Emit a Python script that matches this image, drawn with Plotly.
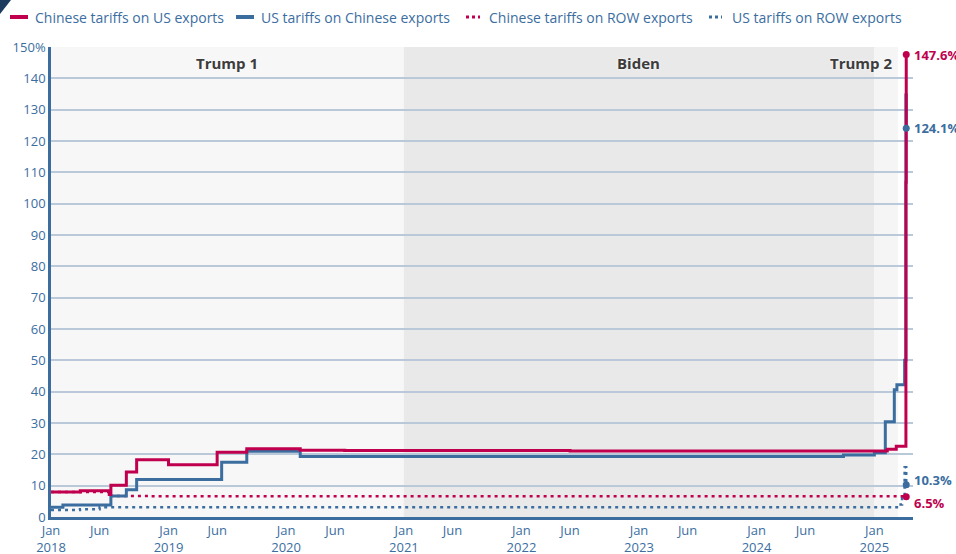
import plotly.graph_objects as go

# Aranceles medios (%), series escalonadas
fechas_cn_us = ["2018-01-01", "2018-04-02", "2018-07-01", "2018-07-06", "2018-08-23",
                "2018-09-24", "2019-01-01", "2019-06-01", "2019-09-01", "2020-02-14",
                "2020-07-01", "2022-06-01", "2025-02-10", "2025-03-10", "2025-04-09",
                "2025-04-10"]
cn_us = [8.0, 8.4, 7.2, 10.1, 14.4, 18.3, 16.7, 20.7, 21.8, 21.3,
         21.2, 21.1, 21.6, 22.6, 106.8, 147.6]

fechas_us_cn = ["2018-01-01", "2018-02-07", "2018-07-06", "2018-08-23", "2018-09-24",
                "2019-06-15", "2019-09-01", "2020-02-14", "2024-09-27", "2025-01-01",
                "2025-02-04", "2025-03-04", "2025-03-12", "2025-04-05", "2025-04-09",
                "2025-04-10"]
us_cn = [3.1, 3.8, 6.7, 8.7, 12.0, 17.5, 21.0, 19.3, 19.8, 20.5,
         30.4, 40.6, 42.2, 50.0, 134.7, 124.1]

fechas_cn_row = ["2018-01-01", "2018-07-01", "2018-11-01", "2025-04-10"]
cn_row = [8.0, 6.7, 6.6, 6.5]

fechas_us_row = ["2018-01-01", "2018-04-01", "2018-06-01", "2025-03-12", "2025-03-28",
                 "2025-04-05", "2025-04-10"]
us_row = [2.2, 2.5, 3.1, 4.0, 6.0, 15.9, 10.3]

periodos = [("Trump 1", "2018-01-01", "2021-01-01", "#f7f7f7"),
            ("Biden", "2021-01-01", "2025-01-01", "#e9e9e9"),
            ("Trump 2", "2025-01-01", "2025-03-15", "#f5f5f5")]
pos_etiquetas = ["2019-07-01", "2023-01-01", "2024-11-20"]

tick_fechas = ["2018-01-01", "2018-06-01", "2019-01-01", "2019-06-01", "2020-01-01",
               "2020-06-01", "2021-01-01", "2021-06-01", "2022-01-01", "2022-06-01",
               "2023-01-01", "2023-06-01", "2024-01-01", "2024-06-01", "2025-01-01"]
tick_textos = ["Jan<br>2018", "Jun", "Jan<br>2019", "Jun", "Jan<br>2020", "Jun",
               "Jan<br>2021", "Jun", "Jan<br>2022", "Jun", "Jan<br>2023", "Jun",
               "Jan<br>2024", "Jun", "Jan<br>2025"]
y_ticks = list(range(0, 151, 10))
y_textos = [str(v) for v in y_ticks[:-1]] + ["150%"]

ROJO = "#c0004e"
AZUL = "#3b6e9f"
FUENTE = "Open Sans"

# geometria del area de trazado (px) para la leyenda manual
L, R, T, B = 51, 43, 47, 37
W, H = 956, 554
PW, PH = W - L - R, H - T - B


def px_x(p):
    return (p - L) / PW


def px_y(p):
    return (H - B - p) / PH


fig = go.Figure()

series = [
    ("Chinese tariffs on US exports", fechas_cn_us, cn_us, ROJO, "solid", 3),
    ("US tariffs on Chinese exports", fechas_us_cn, us_cn, AZUL, "solid", 3),
    ("Chinese tariffs on ROW exports", fechas_cn_row, cn_row, ROJO, "3px,4px", 2.5),
    ("US tariffs on ROW exports", fechas_us_row, us_row, AZUL, "3px,4px", 2.5),
]
# orden de dibujo: punteadas abajo, luego azul, luego roja encima
for i in [3, 2, 1, 0]:
    nombre, xs, ys, color, dash, ancho = series[i]
    fig.add_trace(go.Scatter(x=xs, y=ys, name=nombre, mode="lines", showlegend=False,
                             line=dict(color=color, width=ancho, dash=dash, shape="hv")))

# Puntos finales con etiqueta
desplaz = [0, 0, -6, 5]
for (nombre, xs, ys, color, dash, ancho), dy in zip(series, desplaz):
    fig.add_trace(go.Scatter(x=[xs[-1]], y=[ys[-1]], mode="markers",
                             marker=dict(color=color, size=7),
                             cliponaxis=False, showlegend=False, hoverinfo="skip"))
    fig.add_annotation(x=xs[-1], y=ys[-1], text=f"<b>{ys[-1]:.1f}%</b>", showarrow=False,
                       xanchor="left", xshift=6, yshift=dy,
                       font=dict(color=color, size=13, family=FUENTE))

for (nombre, x0, x1, color), xl in zip(periodos, pos_etiquetas):
    fig.add_shape(type="rect", xref="x", yref="paper", x0=x0, x1=x1, y0=0, y1=1,
                  fillcolor=color, line_width=0, layer="below")
    fig.add_annotation(x=xl, y=px_y(63), yref="paper", yanchor="middle",
                       text=f"<b>{nombre}</b>", showarrow=False,
                       font=dict(color="#3d3d3d", size=15, family=FUENTE,
                                 shadow="0px 0px 3px white"))

# leyenda manual
leyenda = [(10, 28, 33), (236, 254, 259), (466, 480, 487), (709, 722, 730)]
for (nombre, xs, ys, color, dash, ancho), (a, b, t) in zip(series, leyenda):
    fig.add_shape(type="line", xref="paper", yref="paper", x0=px_x(a), x1=px_x(b),
                  y0=px_y(17), y1=px_y(17),
                  line=dict(color=color, width=4 if dash == "solid" else 3,
                            dash="solid" if dash == "solid" else "3px,3px"))
    fig.add_annotation(x=px_x(t), y=px_y(17), xref="paper", yref="paper", text=nombre,
                       showarrow=False, xanchor="left", yanchor="middle",
                       font=dict(color=AZUL, size=14, family=FUENTE))

# triangulo decorativo arriba a la izquierda
fig.add_shape(type="path", xref="paper", yref="paper",
              path=f"M {px_x(0)},{px_y(0)} L {px_x(11)},{px_y(0)} L {px_x(0)},{px_y(14)} Z",
              fillcolor="#1d3a5f", line_width=0)

fig.update_layout(
    width=W, height=H,
    margin=dict(l=L, r=R, t=T, b=B, autoexpand=False),
    paper_bgcolor="white", plot_bgcolor="white",
    font=dict(family=FUENTE, color=AZUL, size=13),
    showlegend=False,
    xaxis=dict(range=["2018-01-01", "2025-05-01"], tickvals=tick_fechas, ticktext=tick_textos,
               showgrid=False, showline=True, linecolor=AZUL, linewidth=2.5,
               ticks="", tickfont=dict(color=AZUL, size=13), zeroline=False),
    yaxis=dict(range=[0, 150], tickvals=y_ticks, ticktext=y_textos, showgrid=True,
               gridcolor="#b9c9d9", gridwidth=1.5, showline=True, linecolor=AZUL, linewidth=2.5,
               ticks="", tickfont=dict(color=AZUL, size=13), zeroline=False),
)

# sin margen del body para que la figura ocupe la ventana desde (0, 0)
fig.write_html("out.html", config={"displayModeBar": False},
               post_script="document.body.style.margin='0';")
